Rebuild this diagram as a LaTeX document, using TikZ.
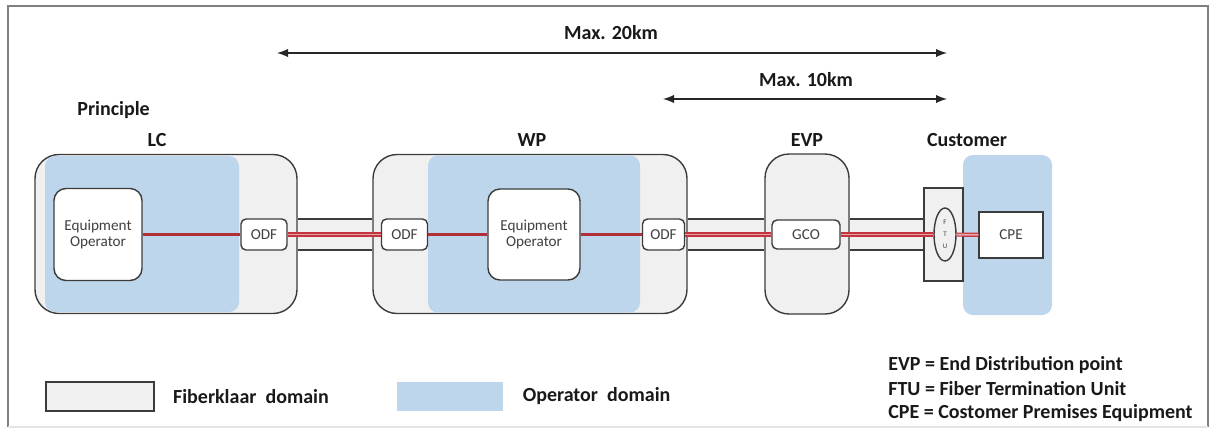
\documentclass[tikz,border=0pt]{standalone}
\usepackage{fontspec}
\setmainfont{Carlito}
\usepackage{tikz}
\usetikzlibrary{positioning,shapes.geometric,arrows}

\definecolor{fkgrey}{RGB}{240,240,240}
\definecolor{opblue}{RGB}{190,214,236}
\definecolor{fibred}{RGB}{196,52,62}
\definecolor{linegrey}{RGB}{60,60,60}
\definecolor{textgrey}{RGB}{64,64,64}

\begin{document}
\begin{tikzpicture}[
x=0.5pt,
y=-0.5pt,
site/.style={
  draw=linegrey,
  fill=fkgrey,
  line width=0.7pt,
  rounded corners=12pt,
  inner sep=0pt
  },
opzone/.style={
  fill=opblue,
  rounded corners=5pt,
  inner sep=0pt
  },
equip/.style={
  draw=linegrey,
  fill=white,
  line width=0.7pt,
  rounded corners=6pt,
  inner sep=0pt,
  align=center,
  text=textgrey,
  font=\fontsize{7.6}{7.6}\selectfont
  },
port/.style={
  equip,
  rounded corners=2.5pt,
  minimum width=23pt,
  minimum height=15.5pt
  },
tube/.style={
  draw=linegrey,
  double=fkgrey,
  line width=0.6pt,
  double distance=14.9pt,
  shorten <=0.35pt,
  shorten >=0.35pt
  },
fiber/.style={draw=fibred!90!black, line width=1.1pt},
fiberpair/.style={draw=fibred, double=fibred!45, line width=0.6pt, double distance=0.9pt},
sitelabel/.style={font=\bfseries\fontsize{10}{12}\selectfont, text=black!90, inner sep=0pt},
span/.style={line width=0.9pt, black!85},
>=latex
]
\useasboundingbox (0,0) rectangle (1210,435);

% frame
\draw[gray, line width=0.8pt] (8,427) -- (8,6) -- (1208,6) -- (1208,427);
\draw[black!10, line width=0.8pt] (8,427) -- (1208,427);

% distances
\coordinate (a20) at (277,53);
\coordinate (b20) at (947,53);
\coordinate (a10) at (663,99);
\coordinate (b10) at (947,99);
\draw[<->, span] (a20) -- (b20);
\draw[<->, span] (a10) -- (b10);
\node[sitelabel] (max20) at (611,33) {Max. 20km};
\node[sitelabel] (max10) at (806,80) {Max. 10km};

\node[sitelabel, anchor=west] (principle) at (77,110) {Principle};
\node[sitelabel] (lclabel) at (157,140) {LC};
\node[sitelabel] (wplabel) at (532,140) {WP};
\node[sitelabel] (evplabel) at (807,140) {EVP};
\node[sitelabel] (custlabel) at (967,140) {Customer};

% locations
\node[site, minimum width=131pt, minimum height=79.5pt] (lc) at (166,234) {};
\node[site, minimum width=157pt, minimum height=79.5pt] (wp) at (530,234) {};
\node[site, minimum width=42pt, minimum height=80pt] (evp) at (807,234) {};
\node[opzone, minimum width=97pt, minimum height=78pt] (lczone) at (142,234) {};
\node[opzone, minimum width=106pt, minimum height=78.5pt] (wpzone) at (534,234) {};
\node[opzone, minimum width=44.5pt, minimum height=80pt] (custzone) at (1007.5,235) {};

% equipment
\node[equip, minimum width=44pt, minimum height=46pt] (lceo) at (98,234.5) {Equipment\\Operator};
\node[port] (lcodf) at (264,234.5) {ODF};
\node[port] (wpodfa) at (404.5,234.5) {ODF};
\node[equip, minimum width=46pt, minimum height=45.5pt] (wpeo) at (534,234.5) {Equipment\\Operator};
\node[port, minimum width=21pt] (wpodfb) at (663.5,234.5) {ODF};
\node[port, minimum width=34pt, minimum height=14.5pt] (gco) at (806,234.5) {GCO};
\node[draw=linegrey, fill=fkgrey, line width=0.7pt, minimum width=19.5pt, minimum height=46.5pt] (ftubox) at (943.5,234.5) {};
\node[draw=linegrey, fill=fkgrey, line width=0.7pt, ellipse, inner sep=0pt, minimum width=11pt, minimum height=26.5pt,
  align=center, text=textgrey, font=\fontsize{3.5}{6}\selectfont] (ftu) at (945,234.5) {F\\T\\U};
\node[draw=linegrey, fill=white, line width=0.7pt, minimum width=32pt, minimum height=23pt,
  text=textgrey, font=\fontsize{7.6}{8}\selectfont] (cpe) at (1011,235) {CPE};

% tubes between locations
\foreach \a/\b in {lc/wp, wp/evp, evp/ftubox}
  \draw[tube] (\a.east |- lcodf) -- (\b.west |- lcodf);

% fibre
\draw[fiber] (lceo) -- (lcodf);
\draw[fiberpair] (lcodf) -- (wpodfa);
\draw[fiber] (wpodfa) -- (wpeo);
\draw[fiber] (wpeo) -- (wpodfb);
\draw[fiberpair] (wpodfb) -- (gco);
\draw[fiberpair] (gco) -- (ftu);
\draw[fiberpair] (ftu) -- (cpe);

% legend
\node[draw=linegrey, fill=fkgrey, line width=0.7pt, minimum width=54pt, minimum height=14.5pt] (fklegend) at (100,396.5) {};
\node[sitelabel, right=9pt of fklegend] (fktext) {Fiberklaar~ domain};
\node[fill=opblue, minimum width=53pt, minimum height=14.5pt] (oplegend) at (450,396.5) {};
\node[sitelabel, right=9.5pt of oplegend] (optext) {Operator~ domain};

\foreach \txt [count=\i] in {EVP = End Distribution point, FTU = Fiber Termination Unit, CPE = Costomer Premises Equipment}
  \node[sitelabel, anchor=west] (abbr\i) at (888,341+24*\i) {\txt};
\end{tikzpicture}
\end{document}
